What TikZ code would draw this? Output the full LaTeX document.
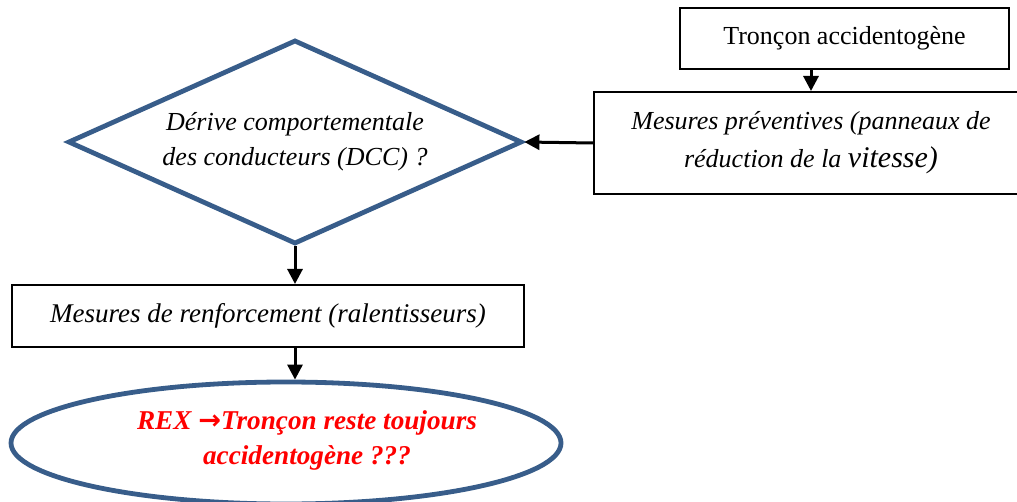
\documentclass[tikz,border=0pt]{standalone}
\usepackage{fontspec}
\setmainfont{Liberation Serif}
\newfontfamily\flechefont{DejaVu Sans}
\usepackage{tikz}
\usetikzlibrary{shapes.geometric,arrows.meta}
\definecolor{bleuw}{RGB}{56,93,138}

\begin{document}
\begin{tikzpicture}[x=0.5pt,y=-0.5pt,
		bx/.style={draw=black,line width=1pt,inner sep=0pt,align=center,font=\fontsize{13}{19}\selectfont},
		bxi/.style={bx,font=\itshape\fontsize{13}{19}\selectfont},
		fl/.style={-{Triangle[length=7.5pt,width=7.5pt]},line width=1.5pt},
		lo/.style={diamond,draw=bleuw,line width=2.4pt,aspect=2.2,inner sep=0pt,minimum width=227pt,minimum height=102pt,align=center,font=\itshape\fontsize{13}{17.5}\selectfont},
		el/.style={ellipse,draw=bleuw,line width=2.4pt,minimum width=275pt,minimum height=61pt}]
	\useasboundingbox (0,0) rectangle (1017,502);
	% boites
	\node[bx,minimum width=164.5pt,minimum height=30.5pt] (tr) at (844.5,38.5) {Tronçon accidentogène};
	\node[bxi,minimum width=217pt,minimum height=51pt] (mp) at (811,143) {Mesures préventives (panneaux de\\réduction de la {\fontsize{15}{19}\selectfont vitesse)}};
	\node[lo] (dcc) at (295,142) {Dérive comportementale\\des conducteurs (DCC) ?};
	\node[bxi,minimum width=256pt,minimum height=31pt,font=\itshape\fontsize{13.5}{19}\selectfont] (mr) at (268,316) {Mesures de renforcement (ralentisseurs)};
	\node[el] (rx) at (286,443) {};
	\node[align=center,text=red,font=\bfseries\itshape\fontsize{13.6}{17.5}\selectfont] (rxt) at (307,440) {REX {\flechefont\bfseries\upshape →}Tronçon reste toujours\\accidentogène ???};
	% fleches
	\draw[fl] (mp.north |- tr.south) -- (mp.north);
	\draw[fl] (mp.west) -- (dcc.east);
	\draw[fl] (dcc.south) -- (dcc.south |- mr.north);
	\draw[fl] (dcc.south |- mr.south) -- (dcc.south |- rx.north);
\end{tikzpicture}
\end{document}
